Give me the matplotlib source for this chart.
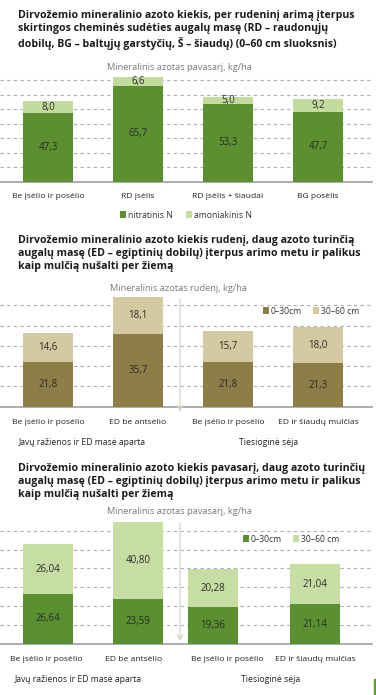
import matplotlib
matplotlib.use("Agg")
import matplotlib.pyplot as plt
from matplotlib.patches import Rectangle

plt.rcParams['font.family'] = ['Open Sans', 'DejaVu Sans']

# data
p1_title = ("Dirvožemio mineralinio azoto kiekis, per rudeninį arimą įterpus\n"
            "skirtingos cheminės sudėties augalų masę (RD – raudonųjų\n"
            "dobilų, BG – baltųjų garstyčių, Š – šiaudų) (0–60 cm sluoksnis)")
p1_sub = "Mineralinis azotas pavasarį, kg/ha"
p1_cats = ["Be įsėlio ir posėlio", "RD įsėlis", "RD įsėlis + šiaudai", "BG posėlis"]
p1_nitrate = [47.3, 65.7, 53.3, 47.7]
p1_ammon = [8.0, 6.6, 5.0, 9.2]
p1_names = ["nitratinis N", "amoniakinis N"]

p2_title = ("Dirvožemio mineralinio azoto kiekis rudenį, daug azoto turinčią\n"
            "augalų masę (ED – egiptinių dobilų) įterpus arimo metu ir palikus\n"
            "kaip mulčią nušalti per žiemą")
p2_sub = "Mineralinis azotas rudenį, kg/ha"
p2_cats = ["Be įsėlio ir posėlio", "ED be antsėlio", "Be įsėlio ir posėlio", "ED ir šiaudų mulčias"]
p2_top = [21.8, 35.7, 21.8, 21.3]
p2_deep = [14.6, 18.1, 15.7, 18.0]

p3_title = ("Dirvožemio mineralinio azoto kiekis pavasarį, daug azoto turinčių\n"
            "augalų masę (ED – egiptinių dobilų) įterpus arimo metu ir palikus\n"
            "kaip mulčią nušalti per žiemą")
p3_sub = "Mineralinis azotas pavasarį, kg/ha"
p3_cats = p2_cats
p3_top = [26.64, 23.59, 19.36, 21.14]
p3_deep = [26.04, 40.80, 20.28, 21.04]

layer_names = ["0–30cm", "30–60 cm"]
groups = ["Javų ražienos ir ED masė aparta", "Tiesioginė sėja"]

W, H = 376, 695
fig = plt.figure(figsize=(W / 100, H / 100), dpi=100)
fig.patch.set_facecolor('white')


def add_ax(x0, top, x1, bottom):
    return fig.add_axes([x0 / W, 1 - bottom / H, (x1 - x0) / W, (bottom - top) / H])


def fmt(v, nd):
    return f"{v:.{nd}f}".replace(".", ",")


def stacked(ax, pos, lower, upper, cols, names, nd, ymax, ticks, cats):
    ax.bar(pos, lower, width=0.56, color=cols[0], label=names[0], zorder=3)
    ax.bar(pos, upper, width=0.56, bottom=lower, color=cols[1], label=names[1], zorder=3)
    for p, lo, up in zip(pos, lower, upper):
        ax.text(p, lo / 2, fmt(lo, nd), ha='center', va='center', fontsize=7,
                color='#2b2b2b', zorder=4)
        ax.text(p, lo + up / 2, fmt(up, nd), ha='center', va='center', fontsize=7,
                color='#2b2b2b', zorder=4)
    ax.set_xlim(-0.533, 3.6)
    ax.set_ylim(0, ymax)
    ax.set_yticks(range(10, int(ymax) + 1, 10))
    ax.yaxis.grid(True, ls=(0, (3, 3)), color='#b0b0b0', lw=0.8)
    ax.set_axisbelow(True)
    ax.tick_params(left=False, labelleft=False, bottom=False, pad=5)
    ax.set_xticks(ticks)
    ax.set_xticklabels(cats, fontsize=6.1, color='#222222')
    for s in ['top', 'left', 'right']:
        ax.spines[s].set_visible(False)
    ax.spines['bottom'].set_color('#a0a0a0')
    ax.spines['bottom'].set_linewidth(1.2)
    ax.patch.set_alpha(0)


def legend(handles, labels, x, y, gap):
    fig.legend(handles, labels, loc='center left', bbox_to_anchor=(x / W, 1 - y / H),
               ncol=2, frameon=False, borderpad=0, fontsize=6.2, handlelength=0.7,
               handleheight=0.7, handletextpad=0.2, columnspacing=gap,
               labelcolor='#333333')


title_kw = dict(fontsize=7.6, fontweight='bold', color='#1a1a1a', linespacing=1.25,
                ha='left', va='top')
sub_kw = dict(fontsize=6.7, color='#7a7a7a', ha='center', va='center')
grp_kw = dict(fontsize=6.2, color='#222222', ha='center', va='center')

# panel 1
fig.text(18 / W, 1 - 10 / H, p1_title, **title_kw)
fig.text(179 / W, 1 - 68 / H, p1_sub, **sub_kw)
ax1 = add_ax(0, 181.5 - 74 * 1.447, 372, 181.5)
stacked(ax1, [0, 1, 2, 3], p1_nitrate, p1_ammon, ['#5b8f2f', '#c3dc9e'], p1_names, 1, 74,
        [0, 1, 2, 3], p1_cats)
h, l = ax1.get_legend_handles_labels()
legend(h, l, 116, 215, 1.5)

# panel 2
fig.text(18 / W, 1 - 235 / H, p2_title, **title_kw)
fig.text(179 / W, 1 - 288 / H, p2_sub, **sub_kw)
ax2 = add_ax(0, 406.7 - 55 * 2.03, 372, 406.7)
stacked(ax2, [0, 1, 2, 3], p2_top, p2_deep, ['#8c7e46', '#d4c9a0'], layer_names, 1, 55,
        [0, 1, 2, 3], p2_cats)
ax2.annotate('', xy=(1.467, -4), xytext=(1.467, 54.5), annotation_clip=False,
             arrowprops=dict(arrowstyle='->', color='#d6d6cc', lw=0.9))
h, l = ax2.get_legend_handles_labels()
legend(h, l, 259, 311, 1.3)
fig.text(82 / W, 1 - 442.7 / H, groups[0], **grp_kw)
fig.text(269 / W, 1 - 442.7 / H, groups[1], **grp_kw)

# panel 3
fig.text(18 / W, 1 - 463 / H, p3_title, **title_kw)
fig.text(179 / W, 1 - 511.7 / H, p3_sub, **sub_kw)
ax3 = add_ax(0, 644 - 66 * 1.89, 372, 644)
stacked(ax3, [0, 1, 1.833, 2.97], p3_top, p3_deep, ['#5a902f', '#c6dea4'], layer_names, 2, 66,
        [-0.02, 0.95, 1.99, 2.97], p3_cats)
ax3.annotate('', xy=(1.467, 0), xytext=(1.467, 65.6), annotation_clip=False,
             arrowprops=dict(arrowstyle='->', color='#d6d6cc', lw=0.9))
h, l = ax3.get_legend_handles_labels()
legend(h, l, 239, 539, 1.3)
fig.text(78 / W, 1 - 679 / H, groups[0], **grp_kw)
fig.text(271 / W, 1 - 679 / H, groups[1], **grp_kw)

# green edge mark at the bottom right
fig.patches.append(Rectangle((374 / W, 0), 2 / W, 16 / H, transform=fig.transFigure,
                             color='#5aa02c', figure=fig))

fig.savefig('out.png', dpi=100)
